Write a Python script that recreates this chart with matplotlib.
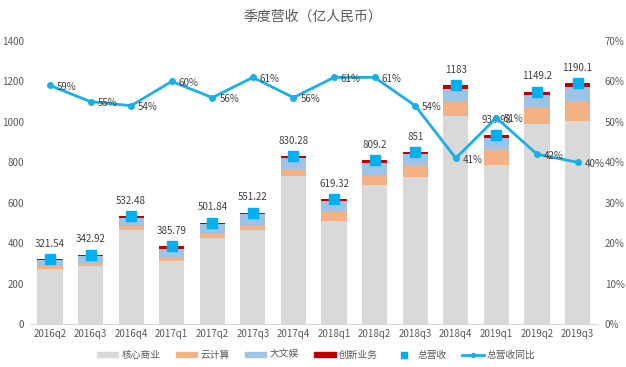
import matplotlib
matplotlib.use('Agg')
import matplotlib.pyplot as plt
import numpy as np
from matplotlib.patches import Patch
from matplotlib.lines import Line2D

plt.rcParams['font.family'] = ['Noto Sans CJK SC', 'DejaVu Sans']

quarters = ['2016q2', '2016q3', '2016q4', '2017q1', '2017q2', '2017q3', '2017q4',
            '2018q1', '2018q2', '2018q3', '2018q4', '2019q1', '2019q2', '2019q3']
core = [272, 288, 466, 312, 427, 465, 732, 511, 688, 726, 1030, 787, 990, 1006]
cloud = [12.4, 15, 17, 21, 25, 27, 36, 44, 47, 57, 66, 77, 77, 93]
media = [32.5, 33, 41, 37, 43, 50, 55, 55, 60, 58, 68, 58, 66, 72]
innov = [4.64, 6.92, 8.48, 15.79, 6.84, 9.22, 7.28, 9.32, 14.2, 10, 19, 12.98, 16.2, 19.1]
total = [321.54, 342.92, 532.48, 385.79, 501.84, 551.22, 830.28,
         619.32, 809.2, 851, 1183, 934.98, 1149.2, 1190.1]
total_labels = ['321.54', '342.92', '532.48', '385.79', '501.84', '551.22', '830.28',
                '619.32', '809.2', '851', '1183', '934.98', '1149.2', '1190.1']
yoy = [59, 55, 54, 60, 56, 61, 56, 61, 61, 54, 41, 51, 42, 40]

c_core = '#D9D9D9'
c_cloud = '#F4B183'
c_media = '#9DC3E6'
c_innov = '#C00000'
c_blue = '#00B0F0'
txt = '#595959'

fig = plt.figure(figsize=(6.26, 3.67), dpi=100)
ax = fig.add_axes([0.0474, 0.1172, 0.9076, 0.7711])
x = np.arange(len(quarters))
w = 0.62

b1 = np.array(core)
b2 = b1 + np.array(cloud)
b3 = b2 + np.array(media)
ax.bar(x, core, w, color=c_core, zorder=2)
ax.bar(x, cloud, w, bottom=b1, color=c_cloud, zorder=2)
ax.bar(x, media, w, bottom=b2, color=c_media, zorder=2)
ax.bar(x, innov, w, bottom=b3, color=c_innov, zorder=2)
ax.plot(x, total, 's', color=c_blue, markersize=7, zorder=4)

for xi, t, lab in zip(x, total, total_labels):
    ax.annotate(lab, (xi, t), xytext=(0, 11), textcoords='offset points',
                ha='center', va='center', fontsize=7, color='#404040', zorder=5)

ax.set_xlim(-0.5, len(quarters) - 0.5)
ax.set_ylim(0, 1400)
ax.set_yticks(range(0, 1401, 200))
ax.set_xticks(x)
ax.set_xticklabels(quarters)
ax.tick_params(axis='both', length=0, labelsize=7, colors=txt)
ax.tick_params(axis='y', pad=4)
for s in ['top', 'right', 'left']:
    ax.spines[s].set_visible(False)
ax.spines['bottom'].set_color('#D9D9D9')

ax2 = ax.twinx()
ax2.plot(x, yoy, '-o', color='#1AAFE6', linewidth=2, markersize=4, zorder=3)
for xi, v in zip(x, yoy):
    ax2.annotate(f'{v}%', (xi, v), xytext=(5, -1), textcoords='offset points',
                 ha='left', va='center', fontsize=7, color='#404040')
ax2.set_ylim(0, 70)
ax2.set_yticks(range(0, 71, 10))
ax2.set_yticklabels([f'{v}%' for v in range(0, 71, 10)])
ax2.tick_params(axis='y', length=0, labelsize=7, colors=txt, pad=5)
for s in ['top', 'right', 'left', 'bottom']:
    ax2.spines[s].set_visible(False)

fig.text(0.5, 0.955, '季度营收（亿人民币）', ha='center', va='center', fontsize=10, color=txt)

handles = [
    Patch(color=c_core, label='核心商业'),
    Patch(color=c_cloud, label='云计算'),
    Patch(color=c_media, label='大文娱'),
    Patch(color=c_innov, label='创新业务'),
    Line2D([], [], marker='s', color=c_blue, linestyle='none', markersize=4, label='总营收'),
    Line2D([], [], marker='o', color='#1AAFE6', linewidth=2, markersize=3, label='总营收同比'),
]
fig.legend(handles=handles, loc='center', bbox_to_anchor=(0.505, 0.033), ncol=6,
           frameon=False, fontsize=7, labelcolor=txt, handlelength=2.2, handleheight=0.5,
           handletextpad=0.3, columnspacing=1.6)

fig.savefig('out.png', dpi=100)
